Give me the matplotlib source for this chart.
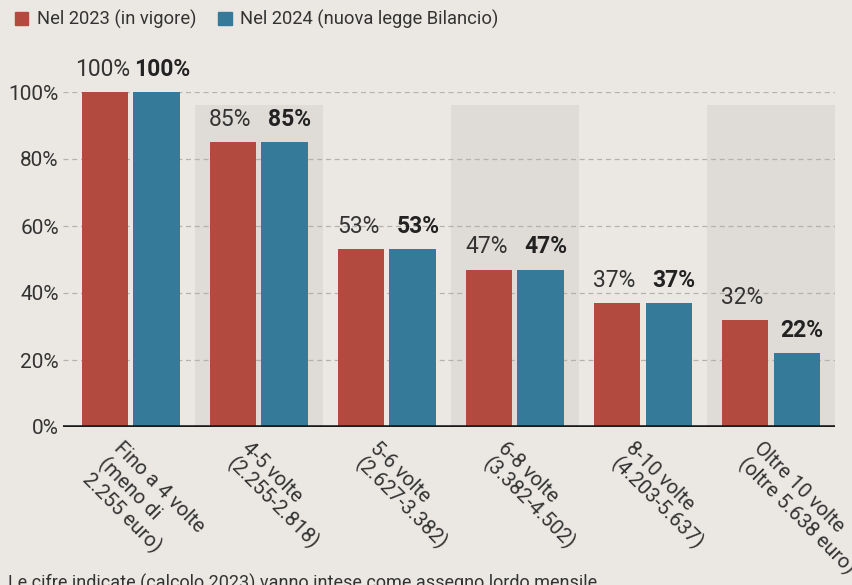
import matplotlib
matplotlib.use("Agg")
import matplotlib.pyplot as plt
from matplotlib.patches import Patch
import matplotlib.transforms as mtransforms
import numpy as np

categories = ["Fino a 4 volte\n(meno di\n2.255 euro)",
              "4-5 volte\n(2.255-2.818)",
              "5-6 volte\n(2.627-3.382)",
              "6-8 volte\n(3.382-4.502)",
              "8-10 volte\n(4.203-5.637)",
              "Oltre 10 volte\n(oltre 5.638 euro)"]
values_2023 = [100, 85, 53, 47, 37, 32]
values_2024 = [100, 85, 53, 47, 37, 22]
series_names = ["Nel 2023 (in vigore)", "Nel 2024 (nuova legge Bilancio)"]
yticks = [0, 20, 40, 60, 80, 100]
footnote = "Le cifre indicate (calcolo 2023) vanno intese come assegno lordo mensile"

RED = "#B34A40"
BLUE = "#357A99"
BG = "#EBE8E3"
BAND = "#DFDCD7"
TXT = "#333333"

plt.rcParams['font.family'] = ['Roboto', 'DejaVu Sans']

fig = plt.figure(figsize=(8.53, 5.85), dpi=100, facecolor=BG)
ax = fig.add_axes([63/853, 1-427/585, (835-63)/853, (427-92)/585])
ax.set_facecolor(BG)

x = np.arange(len(categories))
w = 0.36
off = 0.2

for i in x:
    if i % 2 == 1:
        ax.axvspan(i-0.5, i+0.5, ymin=0, ymax=0.96, color=BAND, lw=0, zorder=0)

for y in yticks[1:]:
    ax.axhline(y, color="#b5b2ad", lw=0.9, ls=(0, (4, 3)), zorder=1)

b1 = ax.bar(x-off, values_2023, w, color=RED, zorder=3)
b2 = ax.bar(x+off, values_2024, w, color=BLUE, zorder=3)

for xi, v in zip(x, values_2023):
    ax.annotate(f"{v}%", (xi-off, v), xytext=(-2, 8), textcoords="offset points",
                ha="center", va="bottom", fontsize=16.5, fontweight="normal",
                color=TXT, annotation_clip=False)
for xi, v in zip(x, values_2024):
    ax.annotate(f"{v}%", (xi+off, v), xytext=(4, 8), textcoords="offset points",
                ha="center", va="bottom", fontsize=16.5, fontweight="bold",
                color="#222222", annotation_clip=False)

ax.axhline(0, color="#1a1a1a", lw=2.6, zorder=4)

ax.set_xlim(-0.53, 5.5)
ax.set_ylim(0, 100)
ax.set_yticks(yticks)
ax.set_yticklabels([f"{t}%" for t in yticks], fontsize=15, fontweight="normal", color=TXT)
ax.tick_params(axis="y", length=0, pad=3)
ax.tick_params(axis="x", length=0, pad=2)
ax.set_xticks(x)
ax.set_xticklabels(categories, rotation=-45, ha="left", va="top",
                   rotation_mode="anchor", fontsize=14.6, fontweight="normal",
                   color=TXT, linespacing=1.1)
shift = mtransforms.ScaledTranslation(-7/100, -9/100, fig.dpi_scale_trans)
for lab in ax.get_xticklabels():
    lab.set_transform(lab.get_transform() + shift)

for s in ax.spines.values():
    s.set_visible(False)

handles = [Patch(facecolor=RED, edgecolor=RED), Patch(facecolor=BLUE, edgecolor=BLUE)]
leg = fig.legend(handles, series_names, loc="upper left", bbox_to_anchor=(0.002, 1.005),
                 ncol=2, frameon=False, fontsize=13.2, handlelength=0.75, handleheight=0.75,
                 handletextpad=0.45, columnspacing=1.2, borderaxespad=0.3)
for t in leg.get_texts():
    t.set_color(TXT)

fig.text(8/853, 1-574/585, footnote, fontsize=13, fontweight="normal",
         color=TXT, ha="left", va="top")

fig.savefig("out.png", dpi=100, facecolor=BG)
